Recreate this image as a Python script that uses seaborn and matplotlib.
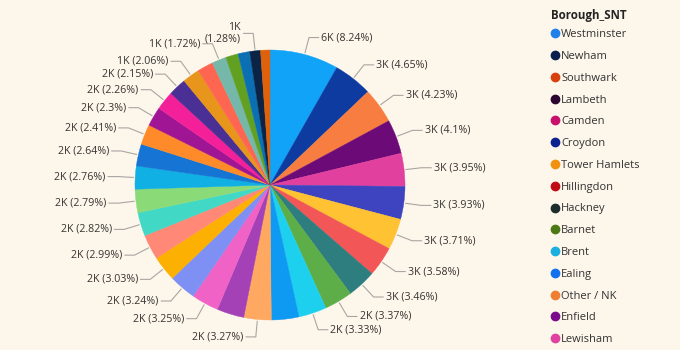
import numpy as np
import matplotlib
matplotlib.use("Agg")
import matplotlib.pyplot as plt
from matplotlib.lines import Line2D
import seaborn as sns

# ---------------- data ----------------
pct = [8.24, 4.65, 4.23, 4.10, 3.95, 3.93, 3.71, 3.58, 3.46, 3.37, 3.33,
       3.30, 3.27, 3.26, 3.25, 3.24, 3.03, 2.99, 2.82, 2.79, 2.76, 2.64,
       2.41, 2.30, 2.26, 2.15, 2.06, 1.90, 1.72, 1.50, 1.40, 1.28, 1.12]

slice_labels = ["6K (8.24%)", "3K (4.65%)", "3K (4.23%)", "3K (4.1%)", "3K (3.95%)",
                "3K (3.93%)", "3K (3.71%)", "3K (3.58%)", "3K (3.46%)", "2K (3.37%)",
                "2K (3.33%)", None, "2K (3.27%)", None, "2K (3.25%)", "2K (3.24%)",
                "2K (3.03%)", "2K (2.99%)", "2K (2.82%)", "2K (2.79%)", "2K (2.76%)",
                "2K (2.64%)", "2K (2.41%)", "2K (2.3%)", "2K (2.26%)", "2K (2.15%)",
                "1K (2.06%)", None, "1K (1.72%)", None, None, "1K\n(1.28%)", None]

slice_colors = ["#11A3F7", "#0D3BA0", "#F77E40", "#6C0A78", "#E2409F", "#3E44C0",
                "#FEC232", "#F25656", "#2E7E80", "#5DAE48", "#1DD0EE", "#0E99F3",
                "#FFA862", "#A441B6", "#F062C6", "#7E90F3", "#FBB002", "#FF8877",
                "#42D8C6", "#8BDA78", "#11B0E4", "#1574D4", "#FF8A2A", "#A01593",
                "#F3209A", "#4A2F94", "#E8951B", "#FF6652", "#75B7A8", "#62A021",
                "#0B6FB4", "#0B2446", "#E0610B"]

legend_names = ["Westminster", "Newham", "Southwark", "Lambeth", "Camden", "Croydon",
                "Tower Hamlets", "Hillingdon", "Hackney", "Barnet", "Brent", "Ealing",
                "Other / NK", "Enfield", "Lewisham"]
legend_colors = ["#1E80E8", "#0B1F4F", "#D9400F", "#2A0630", "#C8116B", "#0B2290",
                 "#F0920F", "#C00B15", "#1B2E2B", "#4B7A15", "#1BB0E0", "#1171EE",
                 "#F08031", "#7A0B8A", "#E041A1"]
legend_title = "Borough_SNT"

# ---------------- style ----------------
BG = "#FDF6EB"
sns.set_theme(style="white")
plt.rcParams["font.family"] = ["Open Sans", "DejaVu Sans"]

fig = plt.figure(figsize=(6.8, 3.5), dpi=100, facecolor=BG)
ax = fig.add_axes([135 / 680, 30 / 350, 270 / 680, 270 / 350])
ax.set_facecolor(BG)

palette = sns.color_palette(slice_colors)
wedges, _ = ax.pie(pct, colors=palette, startangle=90, counterclock=False,
                   radius=1.0, wedgeprops=dict(linewidth=0.3))
for w in wedges:
    w.set_edgecolor(w.get_facecolor())
ax.set_xlim(-1, 1)
ax.set_ylim(-1, 1)
ax.axis("off")

# labels with leader lines
cum = np.cumsum(pct) - np.array(pct) / 2.0
total = float(np.sum(pct))
for mid, lab in zip(cum, slice_labels):
    if lab is None:
        continue
    th = 2 * np.pi * mid / total
    sx, cy_ = np.sin(th), np.cos(th)
    r0, r1 = 1.01, 1.13
    xe, ye = r1 * sx, r1 * cy_
    side = 1 if sx >= 0 else -1
    xh = xe + side * 0.075
    ax.plot([r0 * sx, xe, xh], [r0 * cy_, ye, ye], color="#A8A6A2", lw=0.8,
            clip_on=False, solid_capstyle="butt")
    ax.text(xh + side * 0.015, ye, lab, ha="left" if side > 0 else "right",
            va="center", fontsize=7.7, color="#363431", clip_on=False,
            multialignment="right" if side < 0 else "left", linespacing=1.15)

# legend
handles = [Line2D([0], [0], marker="o", linestyle="", markersize=6.0,
                  markerfacecolor=c, markeredgecolor=c) for c in legend_colors]
leg = fig.legend(handles, legend_names, title=legend_title, loc="upper left",
                 bbox_to_anchor=(551 / 680, 1 - 9 / 350), frameon=False,
                 fontsize=8.0, handlelength=0.7, handletextpad=0.2,
                 labelspacing=0.97, borderpad=0.0, borderaxespad=0.0,
                 title_fontproperties={"weight": "bold", "size": 8.3})
leg._legend_box.align = "left"
leg._legend_box.sep = 5.2
for t in leg.get_texts():
    t.set_color("#333333")
leg.get_title().set_color("#252423")

fig.savefig("out.png", dpi=100, facecolor=BG)
